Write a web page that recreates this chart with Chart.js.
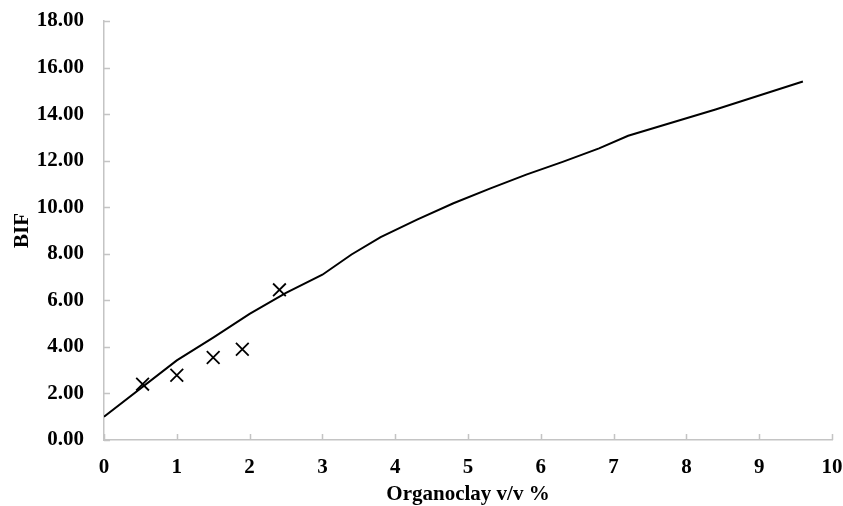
<!DOCTYPE html>
<html>
<head>
<meta charset="utf-8">
<script src="https://cdn.jsdelivr.net/npm/chart.js@4"></script>
<style>
  html,body{margin:0;padding:0;background:#fff;}
  #wrap{width:843px;height:506px;}
</style>
</head>
<body>
<div id="wrap"><canvas id="bifChart"></canvas></div>
<script>
// model curve
var modelX = [0, 1, 1.5, 2, 2.5, 3, 3.4, 3.8, 4.3, 4.8, 5.3, 5.8, 6.3, 6.8, 7.2, 8.4, 9.6];
var modelY = [1.0, 3.42, 4.4, 5.42, 6.32, 7.1, 7.97, 8.72, 9.47, 10.17, 10.8, 11.4, 11.95, 12.53, 13.07, 14.2, 15.4];

// measured points
var measX = [0.53, 1.0, 1.5, 1.9, 2.41];
var measY = [2.4, 2.78, 3.54, 3.9, 6.45];

// ticks
var xTicks = [0, 1, 2, 3, 4, 5, 6, 7, 8, 9, 10];
var yTicks = [0, 2, 4, 6, 8, 10, 12, 14, 16, 18];

var axisGray = '#c4c4c4';
var font = {family: '"Liberation Serif", "Times New Roman", serif', weight: 'bold', size: 21};

function pts(xs, ys){
  return xs.map(function(x, i){ return {x: x, y: ys[i]}; });
}

// small tick marks pointing into the plot
var innerTicks = {
  id: 'innerTicks',
  afterDraw: function(chart){
    var ctx = chart.ctx, xs = chart.scales.x, ys = chart.scales.y, a = chart.chartArea;
    ctx.save();
    ctx.strokeStyle = axisGray;
    ctx.lineWidth = 1.5;
    ctx.beginPath();
    xTicks.forEach(function(v){
      var px = Math.round(xs.getPixelForValue(v)) + 0.5;
      ctx.moveTo(px, a.bottom); ctx.lineTo(px, a.bottom - 6);
    });
    yTicks.forEach(function(v){
      var py = Math.round(ys.getPixelForValue(v)) + 0.5;
      ctx.moveTo(a.left, py); ctx.lineTo(a.left + 6, py);
    });
    ctx.stroke();
    ctx.restore();
  }
};

new Chart(document.getElementById('bifChart'), {
  type: 'scatter',
  data: {
    datasets: [{
      type: 'line',
      data: pts(modelX, modelY),
      borderColor: '#000',
      borderWidth: 2,
      pointRadius: 0,
      tension: 0,
      fill: false
    }, {
      type: 'scatter',
      data: pts(measX, measY),
      pointStyle: 'crossRot',
      pointRadius: 9,
      borderColor: '#000',
      borderWidth: 1.8,
      backgroundColor: '#000'
    }]
  },
  options: {
    responsive: true,
    maintainAspectRatio: false,
    animation: false,
    layout: {padding: {top: 21, right: 11, left: 0, bottom: 0}},
    plugins: {legend: {display: false}, tooltip: {enabled: false}},
    scales: {
      x: {
        type: 'linear',
        min: 0, max: 10,
        afterBuildTicks: function(s){ s.ticks = xTicks.map(function(v){ return {value: v}; }); },
        afterFit: function(s){ s.height = 66; s.paddingLeft = 0; s.paddingRight = 0; },
        grid: {display: false},
        border: {display: true, color: axisGray, width: 1.5},
        ticks: {color: '#000', font: font, padding: 7, maxRotation: 0},
        title: {display: true, text: 'Organoclay v/v %', color: '#000', font: font, padding: {top: 0, bottom: -1}}
      },
      y: {
        type: 'linear',
        min: 0, max: 18,
        afterBuildTicks: function(s){ s.ticks = yTicks.map(function(v){ return {value: v}; }); },
        afterFit: function(s){ s.width = 104; s.paddingTop = 0; s.paddingBottom = 0; },
        grid: {display: false},
        border: {display: true, color: axisGray, width: 1.5},
        ticks: {color: '#000', font: font, padding: 12, callback: function(v){ return v.toFixed(2); }},
        title: {display: true, text: 'BIF', color: '#000', font: font, padding: {top: 10, bottom: 0}}
      }
    }
  },
  plugins: [innerTicks]
});
</script>
</body>
</html>
